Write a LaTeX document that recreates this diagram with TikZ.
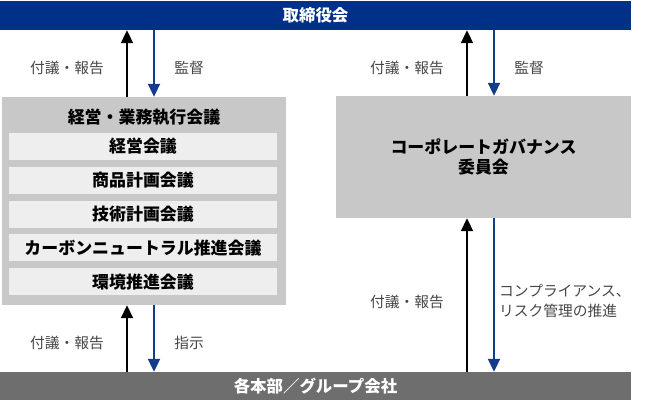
\documentclass[tikz,border=0pt]{standalone}
\usepackage{fontspec}
\setmainfont{Noto Sans CJK JP}
\usetikzlibrary{arrows.meta}
\tikzset {>={Triangle[length=13pt,width=12pt]}}
\definecolor{navy}{RGB}{0,48,135}
\definecolor{darkblue}{RGB}{20,60,140}
\definecolor{boxgray}{RGB}{200,200,200}
\definecolor{rowgray}{RGB}{238,238,238}
\definecolor{bargray}{RGB}{110,110,110}
\definecolor{labelgray}{RGB}{70,70,70}
\tikzset{
  bar/.style={rectangle,minimum width=631bp,minimum height=29bp,inner sep=0pt,text=white,font=\fontsize{16.5}{18}\selectfont\bfseries},
  panel/.style={rectangle,fill=boxgray,inner sep=0pt},
  rowbox/.style={rectangle,fill=rowgray,minimum width=268bp,minimum height=27bp,inner sep=0pt,font=\fontsize{17}{18}\selectfont\bfseries},
  lbl/.style={text=labelgray,inner sep=0pt,font=\fontsize{14.8}{20}\selectfont},
  up/.style={->,line width=2pt,black},
  down/.style={->,line width=2pt,darkblue}
}

\begin{document}
\begin{tikzpicture}[x=1bp,y=-1bp]
\useasboundingbox (0,0) rectangle (645,408);
\node[bar,fill=navy] (board) at (315.5,15.5) {取締役会};
\node[bar,fill=bargray,minimum height=28bp] (units) at (315.5,386) {各本部／グループ会社};
\node[panel,minimum width=284bp,minimum height=208bp] (exec) at (144,201) {};
\node[font=\fontsize{17}{18}\selectfont\bfseries] (exectitle) at (144,117) {経営・業務執行会議};
\node[rowbox] (r1) at (143,146.5) {経営会議};
\node[rowbox] (r2) at (143,180.3) {商品計画会議};
\node[rowbox] (r3) at (143,214.1) {技術計画会議};
\node[rowbox] (r4) at (143,247.9) {カーボンニュートラル推進会議};
\node[rowbox] (r5) at (143,281.7) {環境推進会議};
\node[panel,minimum width=295bp,minimum height=122bp,align=center,font=\fontsize{17}{20}\selectfont\bfseries] (cg) at (483.5,157) {コーポレートガバナンス\\委員会};
\draw[up] ([xshift=-17bp]exec.north) -- ([xshift=-17bp]exec.north |- board.south);
\draw[down] ([xshift=10bp]exec.north |- board.south) -- ([xshift=10bp]exec.north);
\draw[up] ([xshift=-17bp]exec.south |- units.north) -- ([xshift=-17bp]exec.south);
\draw[down] ([xshift=10bp]exec.south) -- ([xshift=10bp]exec.south |- units.north);
\draw[up] ([xshift=-16.5bp]cg.north) -- ([xshift=-16.5bp]cg.north |- board.south);
\draw[down] ([xshift=10.5bp]cg.north |- board.south) -- ([xshift=10.5bp]cg.north);
\draw[up] ([xshift=-16.5bp]cg.south |- units.north) -- ([xshift=-16.5bp]cg.south);
\draw[down] ([xshift=10.5bp]cg.south) -- ([xshift=10.5bp]cg.south |- units.north);
\node[lbl] (rep1) at (67,68) {付議・報告};
\node[lbl] (sup1) at (189,68) {監督};
\node[lbl] (rep2) at (67,343) {付議・報告};
\node[lbl] (ins) at (189,343) {指示};
\node[lbl] (rep3) at (407,68) {付議・報告};
\node[lbl] (sup2) at (529,68) {監督};
\node[lbl] (rep4) at (407,302) {付議・報告};
\node[lbl,anchor=west,align=left] (comp) at (499,301) {コンプライアンス、\\リスク管理の推進};
\end{tikzpicture}
\end{document}
